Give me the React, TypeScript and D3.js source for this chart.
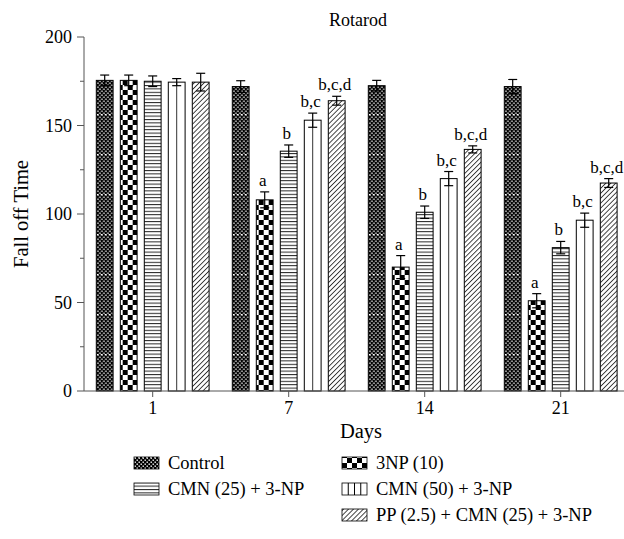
import React from 'react';
import * as d3 from 'd3';

// data
const days = ['1', '7', '14', '21'];
const seriesNames = ['Control', '3NP (10)', 'CMN (25) + 3-NP', 'CMN (50) + 3-NP', 'PP (2.5) + CMN (25) + 3-NP'];
const controlValues = [175.5, 172, 172.5, 172];
const controlErrors = [3, 3.3, 3, 4];
const npValues = [175.5, 108, 70, 51];
const npErrors = [3, 4.5, 6.5, 4];
const cmn25Values = [175, 135.5, 101, 81];
const cmn25Errors = [3, 3.5, 3.5, 3.5];
const cmn50Values = [174.5, 153, 120, 96.5];
const cmn50Errors = [2, 4, 4, 4];
const ppValues = [174.5, 164, 136.5, 117.5];
const ppErrors = [5, 2.5, 2, 2.5];
const npLabels = ['', 'a', 'a', 'a'];
const cmn25Labels = ['', 'b', 'b', 'b'];
const cmn50Labels = ['', 'b,c', 'b,c', 'b,c'];
const ppLabels = ['', 'b,c,d', 'b,c,d', 'b,c,d'];
const yTicks = [0, 50, 100, 150, 200];
const yMinorTicks = [25, 75, 125, 175];

const config = {
    width: 624,
    height: 539,
    left: 84,
    top: 37,
    bottom: 391,
    font: '"Liberation Serif", "Times New Roman", serif'
};

const series = [
    { name: seriesNames[0], values: controlValues, errors: controlErrors, labels: ['', '', '', ''], fill: 'url(#pat-control)' },
    { name: seriesNames[1], values: npValues, errors: npErrors, labels: npLabels, fill: 'url(#pat-np)' },
    { name: seriesNames[2], values: cmn25Values, errors: cmn25Errors, labels: cmn25Labels, fill: 'url(#pat-cmn25)' },
    { name: seriesNames[3], values: cmn50Values, errors: cmn50Errors, labels: cmn50Labels, fill: '#fff', vlines: true },
    { name: seriesNames[4], values: ppValues, errors: ppErrors, labels: ppLabels, fill: 'url(#pat-pp)' }
];

function Patterns() {
    return (
        <defs>
            <pattern id="pat-control" patternUnits="userSpaceOnUse" width="4" height="40" y="-6">
                <rect width="4" height="40" fill="#000" />
                {d3.range(10).map(i => (
                    <g key={i}>
                        <rect x="0.5" y={i * 4 + 0.5} width="1.4" height="1.4" fill="#fff" />
                        <rect x="2.5" y={i * 4 + 2.5} width="1.4" height="1.4" fill="#fff" />
                    </g>
                ))}
                <rect x="0" y="0" width="2" height="1" fill="#fff" />
            </pattern>
            <pattern id="pat-np" patternUnits="userSpaceOnUse" width="10" height="10">
                <rect width="10" height="10" fill="#fff" />
                <rect width="5" height="5" fill="#000" />
                <rect x="5" y="5" width="5" height="5" fill="#000" />
            </pattern>
            <pattern id="pat-cmn25" patternUnits="userSpaceOnUse" width="4" height="3.4">
                <rect width="4" height="3.4" fill="#fff" />
                <rect width="4" height="1" fill="#222" />
            </pattern>
            <pattern id="pat-pp" patternUnits="userSpaceOnUse" width="3.5" height="3.5" patternTransform="rotate(45)">
                <rect width="3.5" height="3.5" fill="#fff" />
                <rect width="0.9" height="3.5" fill="#333" />
            </pattern>
        </defs>
    );
}

export default function App() {
    const { width, height, left, top, bottom, font } = config;
    const y = d3.scaleLinear().domain([0, 200]).range([bottom, top]);
    const x0 = d3.scaleBand().domain(days).range([84.7, 628.7]).padding(0);
    const x1 = d3.scaleBand().domain(seriesNames).range([-60, 60]).paddingInner(0.3).paddingOuter(0.15);
    const bw = x1.bandwidth();
    const cx = (d: string) => (x0(d) as number) + x0.bandwidth() / 2;

    const legendItems = [
        { s: series[0], col: 0, row: 0 },
        { s: series[2], col: 0, row: 1 },
        { s: series[1], col: 1, row: 0 },
        { s: series[3], col: 1, row: 1 },
        { s: series[4], col: 1, row: 2 }
    ];
    const legendX = d3.scaleOrdinal<number, number>().domain([0, 1]).range([134, 342]);
    const legendY = d3.scaleLinear().domain([0, 1]).range([463, 489]);

    return (
        <svg width={width} height={height} style={{ position: 'absolute', left: 0, top: 0, background: '#fff' }}
             fontFamily={font}>
            <Patterns />
            <text x={358} y={26} textAnchor="middle" fontSize={18}>Rotarod</text>

            {/* bars */}
            {days.map((d, i) => (
                <g key={d} transform={`translate(${cx(d)},0)`}>
                    {series.map(s => {
                        const bx = x1(s.name) as number;
                        const v = s.values[i];
                        const e = s.errors[i];
                        const mid = bx + bw / 2;
                        return (
                            <g key={s.name}>
                                <rect x={bx} y={y(v)} width={bw} height={bottom - y(v)} fill={s.fill}
                                      stroke="#000" strokeWidth={1} />
                                {s.vlines ? <line x1={mid} x2={mid} y1={y(v)} y2={bottom} stroke="#333" /> : null}
                                <g stroke="#000" strokeWidth={1.2}>
                                    <line x1={mid} x2={mid} y1={y(v + e)} y2={y(v - e)} />
                                    <line x1={mid - 4.5} x2={mid + 4.5} y1={y(v + e)} y2={y(v + e)} />
                                    <line x1={mid - 4.5} x2={mid + 4.5} y1={y(v - e)} y2={y(v - e)} />
                                </g>
                                {s.labels[i] ? (
                                    <text x={mid - 2} y={y(v + e) - 6} textAnchor="middle" fontSize={17}>{s.labels[i]}</text>
                                ) : null}
                            </g>
                        );
                    })}
                </g>
            ))}

            {/* y axis */}
            <g stroke="#555" strokeWidth={1}>
                <line x1={left} x2={left} y1={top} y2={bottom} />
                {yTicks.map(t => <line key={t} x1={left - 7} x2={left} y1={y(t)} y2={y(t)} />)}
                {yMinorTicks.map(t => <line key={t} x1={left - 4} x2={left} y1={y(t)} y2={y(t)} />)}
            </g>
            {yTicks.map(t => (
                <text key={t} x={left - 12} y={y(t)} dy="0.35em" textAnchor="end" fontSize={18}>{t}</text>
            ))}
            <text transform={`translate(28,${(top + bottom) / 2}) rotate(-90)`} textAnchor="middle" fontSize={20.5}>
                Fall off Time
            </text>

            {/* x axis */}
            <g stroke="#555" strokeWidth={1}>
                <line x1={left} x2={width} y1={bottom} y2={bottom} />
                {days.map(d => <line key={d} x1={cx(d)} x2={cx(d)} y1={bottom} y2={bottom + 6} />)}
            </g>
            {days.map(d => (
                <text key={d} x={cx(d)} y={414} textAnchor="middle" fontSize={18}>{d}</text>
            ))}
            <text x={361} y={438} textAnchor="middle" fontSize={20.5}>Days</text>

            {/* legend */}
            {legendItems.map(({ s, col, row }) => {
                const lx = legendX(col);
                const ly = legendY(row);
                return (
                    <g key={s.name} transform={`translate(${lx},${ly})`}>
                        <rect x={0} y={-6} width={25} height={12} fill={s.fill} stroke="#000" strokeWidth={0.8} />
                        {s.vlines ? d3.range(1, 4).map(k => (
                            <line key={k} x1={k * 6.25} x2={k * 6.25} y1={-6} y2={6} stroke="#000" />
                        )) : null}
                        <text x={34} y={0} dy="0.35em" fontSize={18.5}>{s.name}</text>
                    </g>
                );
            })}
        </svg>
    );
}
